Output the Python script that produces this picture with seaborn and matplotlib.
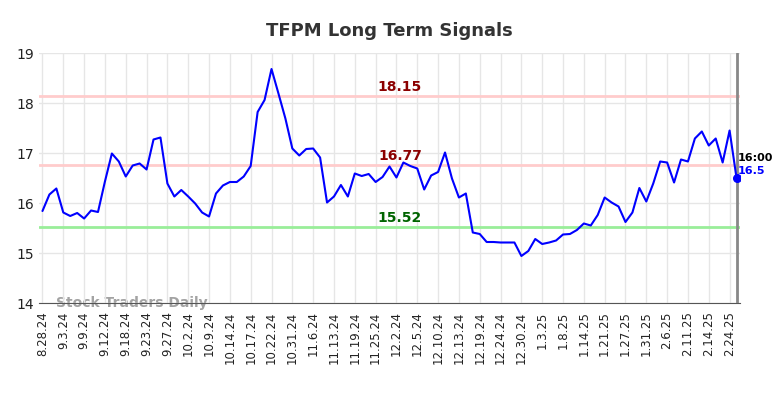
import numpy as np
import pandas as pd
import matplotlib
matplotlib.use("Agg")
import matplotlib.pyplot as plt
import seaborn as sns

# Chart values
TITLE = "TFPM Long Term Signals"
TICK_LABELS = ['8.28.24', '9.3.24', '9.9.24', '9.12.24', '9.18.24', '9.23.24', '9.27.24',
               '10.2.24', '10.9.24', '10.14.24', '10.17.24', '10.22.24', '10.31.24',
               '11.6.24', '11.13.24', '11.19.24', '11.25.24', '12.2.24', '12.5.24',
               '12.10.24', '12.13.24', '12.19.24', '12.24.24', '12.30.24', '1.3.25',
               '1.8.25', '1.14.25', '1.21.25', '1.27.25', '1.31.25', '2.6.25',
               '2.11.25', '2.14.25', '2.24.25']
PRICES = [15.84, 16.17, 16.29, 15.81, 15.74, 15.80, 15.69, 15.85, 15.82, 16.43,
          16.99, 16.83, 16.53, 16.75, 16.79, 16.67, 17.27, 17.31, 16.39, 16.13,
          16.26, 16.13, 15.99, 15.81, 15.73, 16.19, 16.35, 16.42, 16.42, 16.53,
          16.74, 17.82, 18.06, 18.68, 18.19, 17.69, 17.09, 16.95, 17.08, 17.09,
          16.91, 16.01, 16.13, 16.36, 16.13, 16.59, 16.54, 16.58, 16.42, 16.52,
          16.73, 16.51, 16.81, 16.74, 16.69, 16.27, 16.55, 16.62, 17.01, 16.49,
          16.11, 16.19, 15.41, 15.38, 15.22, 15.22, 15.21, 15.21, 15.21, 14.94,
          15.04, 15.28, 15.18, 15.21, 15.25, 15.37, 15.38, 15.46, 15.59, 15.55,
          15.76, 16.11, 16.01, 15.93, 15.62, 15.81, 16.30, 16.03, 16.39, 16.83,
          16.81, 16.41, 16.87, 16.83, 17.29, 17.43, 17.15, 17.29, 16.81, 17.45,
          16.50]
LEVEL_VALUES = [18.15, 16.77, 15.52]
LEVEL_LABELS = ['18.15', '16.77', '15.52']
LAST_TIME = "16:00"
LAST_PRICE_LABEL = "16.5"
WATERMARK = "Stock Traders Daily"

TICK_STEP = 3


def main():
    df = pd.DataFrame({'idx': np.arange(len(PRICES)), 'price': PRICES})

    sns.set_style("white")
    fig = plt.figure(figsize=(7.84, 3.98), dpi=100)
    ax = fig.add_axes([39 / 784, 1 - 303 / 398, 701 / 784, 250 / 398])

    # support / resistance lines
    level_colors = ['#ffcccc', '#ffcccc', '#99ee99']
    text_colors = ['#8b0000', '#8b0000', '#006400']
    mid_x = (len(PRICES) - 1) * 0.515
    for val, lab, lc, tc in zip(LEVEL_VALUES, LEVEL_LABELS, level_colors, text_colors):
        ax.axhline(val, color=lc, lw=2, zorder=1)
        ax.text(mid_x, val + 0.04, lab, color=tc, fontsize=10, fontweight='bold',
                ha='center', va='bottom', zorder=3)

    sns.lineplot(data=df, x='idx', y='price', color='#0000ff', lw=1.5, ax=ax, zorder=4)

    last = len(PRICES) - 1
    ax.axvline(last, color='#888888', lw=2, zorder=2)
    ax.scatter([last], [PRICES[-1]], color='#0000ff', s=30, zorder=5)
    ax.text(last + 0.2, PRICES[-1] + 0.4, LAST_TIME, color='black', fontsize=8,
            fontweight='bold', ha='left', va='center')
    ax.text(last + 0.2, PRICES[-1] + 0.14, LAST_PRICE_LABEL, color='#0000ff', fontsize=8,
            fontweight='bold', ha='left', va='center')

    # watermark sits on the bottom spine
    ax.text(2, 14.0, WATERMARK, color='#999999', fontsize=10, fontweight='bold',
            ha='left', va='center', alpha=0.9, zorder=0)

    ax.set_xlim(-0.5, last + 0.5)
    ax.set_ylim(14, 19)
    ax.set_yticks(range(14, 20))
    ticks = list(range(0, len(PRICES), TICK_STEP))[:len(TICK_LABELS)]
    ax.set_xticks(ticks)
    ax.set_xticklabels(TICK_LABELS, rotation=90, fontsize=8.5, color='#222222')
    ax.tick_params(axis='y', labelsize=10, colors='#222222', length=0)
    ax.tick_params(axis='x', length=0, pad=6)
    ax.grid(True, color='#e6e6e6', lw=1)
    ax.set_axisbelow(True)
    ax.set_xlabel('')
    ax.set_ylabel('')
    for s in ['top', 'left', 'right']:
        ax.spines[s].set_visible(False)
    ax.spines['bottom'].set_color('#555555')
    ax.spines['bottom'].set_zorder(1)

    ax.set_title(TITLE, fontsize=13, fontweight='bold', color='#333333', pad=12)

    fig.savefig('out.png', dpi=100)


if __name__ == "__main__":
    main()
